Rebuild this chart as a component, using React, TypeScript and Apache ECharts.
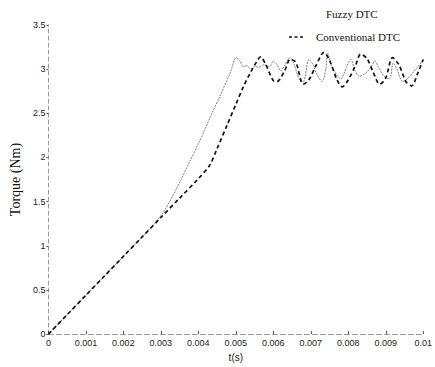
import React, { useEffect, useRef } from "react";
import * as echarts from "echarts";

// Time samples (s) and torque (Nm) for the two controllers
const fuzzyTime = [
  0, 0.0005, 0.001, 0.0015, 0.002, 0.0025, 0.003, 0.0034, 0.00373, 0.00404,
  0.00434, 0.00455, 0.00486, 0.00501, 0.0051, 0.0052, 0.0053, 0.0054, 0.0055,
  0.0056, 0.00575, 0.0059, 0.006, 0.0061, 0.0062, 0.0063, 0.00645, 0.00655,
  0.0067, 0.0068, 0.00695, 0.00705, 0.00715, 0.0073, 0.0074, 0.00745, 0.00755,
  0.0077, 0.0078, 0.00795, 0.00807, 0.00818, 0.0083, 0.00845, 0.0086, 0.00871,
  0.0088, 0.00895, 0.0091, 0.0092, 0.0093, 0.00945, 0.0096, 0.0098, 0.01,
];
const fuzzyTorque = [
  0, 0.22, 0.44, 0.66, 0.88, 1.1, 1.34, 1.63, 1.92, 2.19,
  2.48, 2.67, 2.97, 3.13, 3.1, 3.03, 3.04, 3.0, 3.03,
  3.02, 3.05, 3.03, 3.09, 3.05, 2.98, 3.04, 3.13, 3.06,
  2.88, 2.86, 3.11, 3.06, 2.95, 2.86, 3.0, 3.18, 3.05,
  2.93, 2.89, 3.02, 3.11, 2.98, 2.92, 2.95, 3.02, 3.09,
  3.03, 2.92, 2.89, 3.07, 3.0, 2.86, 2.9, 3.0, 3.1,
];

const convTime = [
  0, 0.0005, 0.001, 0.0015, 0.002, 0.0025, 0.003, 0.0035, 0.004, 0.0043,
  0.0045, 0.00476, 0.005, 0.0052, 0.0054, 0.00555, 0.00566, 0.0058, 0.006,
  0.0061, 0.0063, 0.00645, 0.0066, 0.0068, 0.00695, 0.00715, 0.00735, 0.0075,
  0.0077, 0.00784, 0.008, 0.0082, 0.00833, 0.0085, 0.00865, 0.00884, 0.009,
  0.00918, 0.00935, 0.00955, 0.00969, 0.00985, 0.01,
];
const convTorque = [
  0, 0.22, 0.44, 0.66, 0.88, 1.1, 1.32, 1.54, 1.76, 1.91,
  2.1, 2.36, 2.6, 2.8, 2.97, 3.08, 3.14, 3.05, 2.87,
  2.86, 2.98, 3.11, 3.08, 2.83, 2.88, 3.05, 3.19, 3.1,
  2.88, 2.8, 2.88, 3.05, 3.17, 3.12, 2.98, 2.83, 2.9,
  3.13, 3.05, 2.85, 2.81, 2.95, 3.11,
];

const xTickStep = 0.001;
const yTickStep = 0.5;

const pairs = (xs: number[], ys: number[]) => xs.map((x, i) => [x, ys[i]]);

const tickFont = {
  fontFamily: "Liberation Sans, Arial, sans-serif",
  fontSize: 9,
  color: "#222",
};

export default function App() {
  const ref = useRef<HTMLDivElement>(null);

  useEffect(() => {
    document.body.style.margin = "0";
    const chart = echarts.init(ref.current!, null, { renderer: "svg" });
    chart.setOption({
      animation: false,
      backgroundColor: "#fff",
      grid: { left: 38, right: 6, top: 25, bottom: 27 },
      xAxis: {
        type: "value",
        min: 0,
        max: 0.01,
        interval: xTickStep,
        name: "t(s)",
        nameLocation: "middle",
        nameGap: 17,
        nameTextStyle: { ...tickFont, fontSize: 10 },
        axisLine: { lineStyle: { color: "#999", width: 1, type: [5, 3] } },
        axisTick: { inside: true, length: 3, lineStyle: { color: "#555" } },
        axisLabel: {
          ...tickFont,
          margin: 4,
          formatter: (v: number) => (v === 0 ? "0" : String(+v.toFixed(3))),
        },
        splitLine: { show: false },
      },
      yAxis: {
        type: "value",
        min: 0,
        max: 3.5,
        interval: yTickStep,
        name: "Torque (Nm)",
        nameLocation: "middle",
        nameGap: 17,
        nameTextStyle: {
          fontFamily: "Liberation Serif, Times New Roman, serif",
          fontSize: 14,
          color: "#111",
        },
        axisLine: { show: true, lineStyle: { color: "#999", width: 1, type: [4, 3] } },
        axisTick: { show: true, inside: false, length: 2, lineStyle: { color: "#555" } },
        axisLabel: {
          ...tickFont,
          margin: 3,
          formatter: (v: number) => String(+v.toFixed(1)),
        },
        splitLine: { show: false },
      },
      graphic: [
        {
          type: "text",
          left: 326,
          top: 8,
          style: {
            text: "Fuzzy DTC",
            font: "11px 'Liberation Serif', 'Times New Roman', serif",
            fill: "#111",
          },
        },
        {
          type: "line",
          shape: { x1: 289, y1: 37, x2: 303, y2: 37 },
          style: { stroke: "#111", lineWidth: 1.6, lineDash: [3, 2.5] },
        },
        {
          type: "text",
          left: 316,
          top: 31,
          style: {
            text: "Conventional DTC",
            font: "11px 'Liberation Serif', 'Times New Roman', serif",
            fill: "#111",
          },
        },
      ],
      series: [
        {
          name: "Fuzzy DTC",
          type: "line",
          data: pairs(fuzzyTime, fuzzyTorque),
          showSymbol: false,
          smooth: 0.3,
          lineStyle: { color: "#7f7f7f", width: 1, type: [2, 1] },
          z: 2,
        },
        {
          name: "Conventional DTC",
          type: "line",
          data: pairs(convTime, convTorque),
          showSymbol: false,
          smooth: 0.3,
          lineStyle: { color: "#111", width: 1.7, type: [4, 3] },
          z: 3,
        },
      ],
    });
    return () => chart.dispose();
  }, []);

  return (
    <div
      ref={ref}
      style={{ position: "absolute", left: 0, top: 0, width: 435, height: 367 }}
    />
  );
}
